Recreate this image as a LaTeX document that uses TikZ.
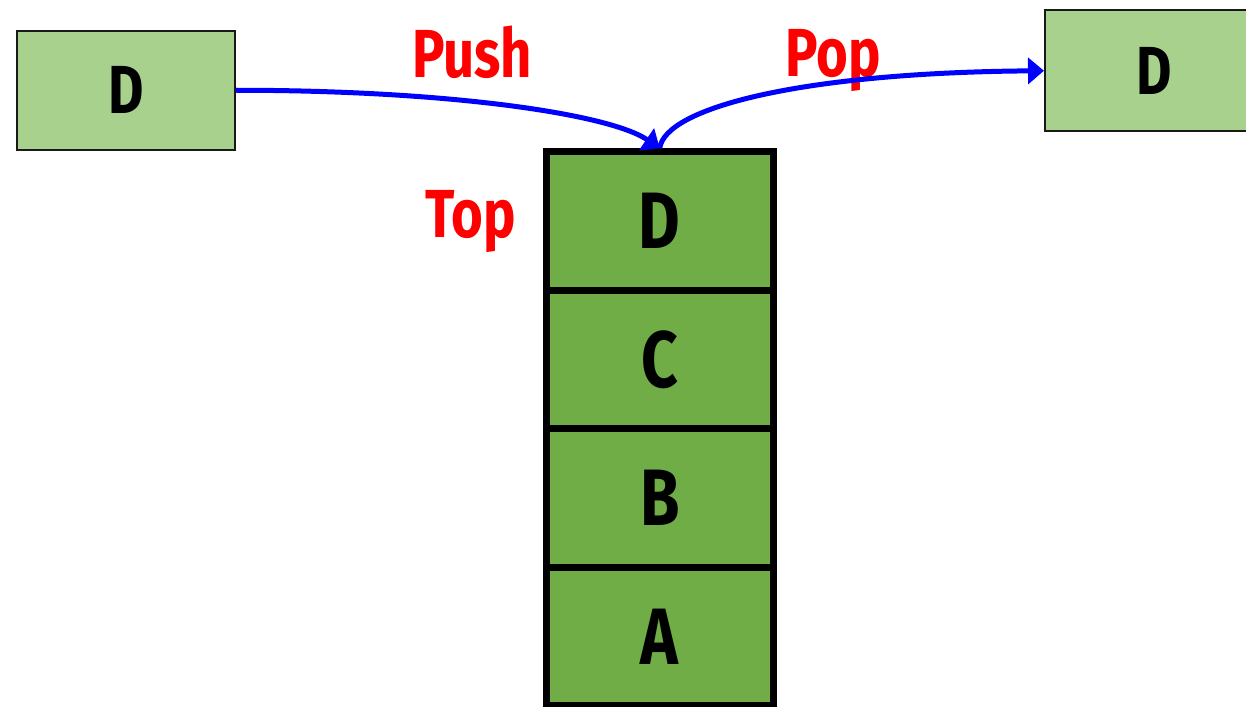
\documentclass[tikz,border=0pt]{standalone}
\usepackage{fontspec}
\usetikzlibrary{arrows.meta}
\newfontfamily\lblfont{Fira Sans}[FakeStretch=0.8]
\definecolor{lightgreen}{HTML}{A9D18E}
\definecolor{stackgreen}{HTML}{70AD47}
\definecolor{pushblue}{HTML}{0000FF}
\definecolor{labelred}{HTML}{FF0000}
\begin{document}
\begin{tikzpicture}[x=1pt,y=-1pt,
  item/.style={draw=black!90, line width=2pt, fill=lightgreen, inner sep=0pt,
    minimum width=218.5pt, font=\lblfont\bfseries\fontsize{68}{68}\selectfont},
  cell/.style={draw=black, line width=7pt, fill=stackgreen, inner sep=0pt,
    minimum width=226.5pt, minimum height=138.5pt,
    font=\lblfont\bfseries\fontsize{80}{80}\selectfont},
  oplabel/.style={text=labelred, anchor=base, inner sep=0pt,
    font=\lblfont\bfseries\fontsize{68}{68}\selectfont},
  flow/.style={draw=pushblue, line width=5pt,
    -{Triangle[length=16pt,width=26pt]}}]
  \useasboundingbox (0,0) rectangle (1246,706);

  % stack cells, top to bottom
  \node[cell] (cA) at (659.75,636.5) {A};
  \node[cell] (cB) at (659.75,498) {B};
  \node[cell] (cC) at (659.75,359.5) {C};
  \node[cell] (cD) at (659.75,221) {D};

  % element being pushed and element popped
  \node[item, minimum height=118.5pt] (lD) at (125.75,90.25) {D};
  \node[item, minimum height=120.5pt] (rD) at (1154.25,70.75) {D};

  % labels
  \node[oplabel] (push) at (472,78) {Push};
  \node[oplabel] (pop) at (833,77) {Pop};
  \node[oplabel] (top) at (470.5,237) {Top};

  % push and pop arrows
  \draw[flow] (lD.east) .. controls +(215,0) and +(-50,-34) .. (cD.north);
  \draw[flow] (cD.north) .. controls +(5,-40) and +(-245,2) .. (rD.west);
\end{tikzpicture}
\end{document}
